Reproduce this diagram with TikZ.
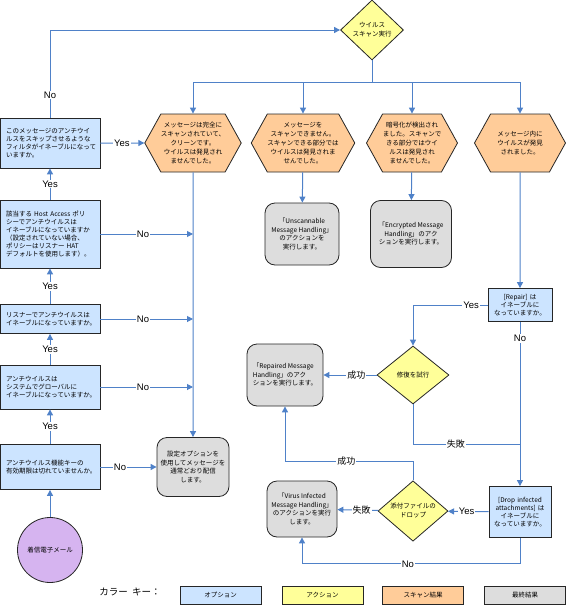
\documentclass[tikz,border=0pt]{standalone}
\usepackage{fontspec}
\setmainfont{Noto Sans CJK JP}
\newfontfamily\lbfont{Liberation Sans}
\usetikzlibrary{shapes.geometric,shapes.symbols,arrows.meta}
\definecolor{optblue}{HTML}{CCE4FF}
\definecolor{actyellow}{HTML}{FFFF99}
\definecolor{scanorange}{HTML}{FFCC99}
\definecolor{fingray}{HTML}{DDDDDD}
\definecolor{mailpurple}{HTML}{D6B4F0}
\definecolor{flowblue}{HTML}{4F81C8}
\tikzset{
	optbox/.style={draw=black!85, line width=0.8pt, fill=optblue, align=left, text width=88pt, inner xsep=6pt, inner ysep=0pt, minimum width=100pt, font=\fontsize{6.5}{8}\selectfont},
	hexbox/.style={signal, signal to=west and east, signal pointer angle=122, draw=black!85, line width=0.8pt, fill=scanorange, align=center, inner sep=0pt, minimum width=91pt, minimum height=58pt, font=\fontsize{6.5}{9}\selectfont},
	actbox/.style={diamond, draw=black!85, line width=0.8pt, fill=actyellow, align=center, inner sep=0pt, font=\fontsize{6.5}{9}\selectfont},
	finbox/.style={rounded corners=10pt, draw=black!85, line width=0.8pt, fill=fingray, align=center, inner sep=0pt, font=\fontsize{6.5}{8.5}\selectfont},
	keybox/.style={draw=black!85, line width=0.8pt, minimum width=81pt, minimum height=18pt, inner sep=0pt, font=\fontsize{6.5}{8}\selectfont},
	arr/.style={draw=flowblue, line width=1pt, -{Triangle[length=6pt,width=6pt]}},
	flow/.style={draw=flowblue, line width=1pt},
	lbl/.style={fill=white, inner sep=1pt, font=\lbfont\fontsize{9.5}{10}\selectfont},
	jlbl/.style={fill=white, inner sep=1pt, font=\fontsize{9}{10}\selectfont}
}
\begin{document}
\begin{tikzpicture}[x=1pt,y=-1pt]
	\useasboundingbox (0,0) rectangle (565,605);
	\node[optbox, minimum height=50pt] (boxA) at (50,143) {このメッセージのアンチウイ\\ルスをスキップさせるような\\フィルタがイネーブルになって\\いますか。};
	\node[optbox, minimum height=68pt] (boxB) at (50,234) {該当する Host Access ポリ\\シーでアンチウイルスは\\イネーブルになっていますか\\（設定されていない場合、\\ポリシーはリスナー HAT\\デフォルトを使用します）。};
	\node[optbox, minimum height=29pt] (boxC) at (50,319) {リスナーでアンチウイルスは\\イネーブルになっていますか。};
	\node[optbox, minimum height=44pt] (boxD) at (50,387) {アンチウイルスは\\システムでグローバルに\\イネーブルになっていますか。};
	\node[optbox, minimum height=45pt] (boxE) at (50,467) {アンチウイルス機能キーの\\有効期限は切れていませんか。};
	\node[circle, draw=black!85, line width=0.8pt, fill=mailpurple, minimum size=65pt, inner sep=0pt, font=\fontsize{6.5}{8}\selectfont] (mail) at (50,550) {着信電子メール};
	\node[actbox, minimum width=63pt, minimum height=60pt] (scan) at (372,30) {ウイルス\\スキャン実行};
	\coordinate (split) at (372,82);
	\node[hexbox] (hex1) at (193,143) {メッセージは完全に\\スキャンされていて、\\クリーンです。\\ウイルスは発見され\\ませんでした。};
	\node[hexbox] (hex2) at (303,143) {メッセージを\\スキャンできません。\\スキャンできる部分では\\ウイルスは発見されま\\せんでした。};
	\node[hexbox] (hex3) at (412,143) {暗号化が検出され\\ました。スキャンで\\きる部分ではウイ\\ルスは発見され\\ませんでした。};
	\node[hexbox] (hex4) at (520,143) {メッセージ内に\\ウイルスが発見\\されました。};
	\node[finbox, minimum width=74pt, minimum height=62pt] (unscan) at (302,234) {「Unscannable\\Message Handling」\\のアクションを\\実行します。};
	\node[finbox, minimum width=81pt, minimum height=67pt] (encrypt) at (411,234) {「Encrypted Message\\Handling」のアク\\ションを実行します。};
	\node[finbox, minimum width=72pt, minimum height=59pt] (deliver) at (193,467) {設定オプションを\\使用してメッセージを\\通常どおり配信\\します。};
	\node[optbox, align=center, text width=60pt, inner xsep=2pt, minimum width=64pt, minimum height=33pt] (repair) at (520,305) {[Repair] は\\イネーブルに\\なっていますか。};
	\node[actbox, minimum width=72pt, minimum height=58pt] (tryfix) at (413,375) {修復を試行};
	\node[finbox, align=left, minimum width=76pt, minimum height=62pt] (repaired) at (285,375) {「Repaired Message\\Handling」のアク\\ションを実行します。};
	\coordinate (failjoin) at (520,444);
	\node[optbox, align=center, text width=58pt, inner xsep=2pt, minimum width=62pt, minimum height=51pt] (drop) at (520,512) {[Drop infected\\attachments] は\\イネーブルに\\なっていますか。};
	\node[actbox, minimum width=70pt, minimum height=57pt] (dropatt) at (413,511) {添付ファイルの\\ドロップ};
	\node[finbox, minimum width=70pt, minimum height=56pt] (infected) at (302,509) {「Virus Infected\\Message Handling」\\のアクションを実行\\します。};
	\draw[arr] (mail) -- (boxE);
	\draw[arr] (boxE) -- node[lbl]{Yes} (boxD);
	\draw[arr] (boxD) -- node[lbl]{Yes} (boxC);
	\draw[arr] (boxC) -- node[lbl]{Yes} (boxB);
	\draw[arr] (boxB) -- node[lbl]{Yes} (boxA);
	\draw[arr] (boxA.north) -- node[lbl, pos=0.26]{No} (boxA.north |- scan.west) -- (scan.west);
	\draw[arr] (boxA) -- node[lbl, pos=0.49]{Yes} (hex1);
	\draw[arr] (boxB.east) -- node[lbl, pos=0.46]{No} (deliver.north |- boxB.east);
	\draw[arr] (boxC.east) -- node[lbl, pos=0.46]{No} (deliver.north |- boxC.east);
	\draw[arr] (boxD.east) -- node[lbl, pos=0.46]{No} (deliver.north |- boxD.east);
	\draw[arr] (boxE) -- node[lbl, pos=0.35]{No} (deliver);
	\foreach \h in {hex1,hex2,hex3,hex4}
		\draw[arr] (scan.south) -- (scan.south |- split) -| (\h.north);
	\draw[arr] (hex1) -- (deliver);
	\draw[arr] (hex2) -- (unscan);
	\draw[arr] (hex3) -- (encrypt);
	\draw[arr] (hex4) -- (repair);
	\draw[arr] (repair.west) -| node[lbl, pos=0.11]{Yes} (tryfix.north);
	\draw[arr] (tryfix) -- node[jlbl, pos=0.38]{成功} (repaired);
	\draw[arr] (repair) -- node[lbl, pos=0.1]{No} (drop);
	\draw[flow] (tryfix.south) |- node[jlbl, pos=0.7]{失敗} (failjoin);
	\draw[arr] (drop) -- node[lbl, pos=0.54]{Yes} (dropatt);
	\draw[arr] (dropatt.north) -- ++(0,-19) -| node[jlbl, pos=0.26]{成功} (repaired.south);
	\draw[arr] (dropatt) -- node[jlbl, pos=0.41]{失敗} (infected);
	\draw[arr] (drop.south) -- ++(0,26) -| node[lbl, pos=0.257]{No} (infected.south);
	\node[font=\fontsize{9.5}{10}\selectfont] (keytitle) at (130,592) {カラー\ \ キー：};
	\node[keybox, fill=optblue] (keyopt) at (220.5,595) {オプション};
	\node[keybox, fill=actyellow] (keyact) at (322.5,595) {アクション};
	\node[keybox, fill=scanorange] (keyscan) at (423,595) {スキャン結果};
	\node[keybox, fill=fingray] (keyfin) at (525,595) {最終結果};
\end{tikzpicture}
\end{document}
